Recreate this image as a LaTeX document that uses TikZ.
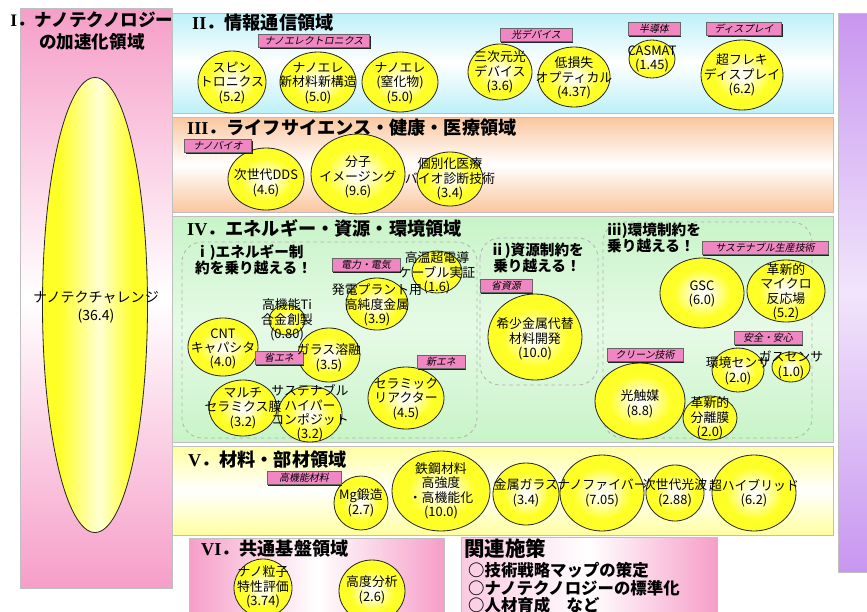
\documentclass[tikz,border=0pt]{standalone}
\usepackage{fontspec}
\newfontfamily\jp{Noto Sans CJK JP}
\newfontfamily\jpsl[FakeSlant=0.2]{Noto Sans CJK JP}
\newfontfamily\numfont{Liberation Serif}
\usetikzlibrary{shapes.geometric,shadows}
\definecolor{panelpink}{RGB}{246,158,200}
\definecolor{tagpink}{RGB}{240,135,195}
\definecolor{panelcyan}{RGB}{188,240,248}
\definecolor{panelorange}{RGB}{250,198,158}
\definecolor{panelgreen}{RGB}{200,244,200}
\definecolor{panelyellow}{RGB}{255,255,160}
\definecolor{panelpurple}{RGB}{200,150,240}
\definecolor{ballyellow}{RGB}{255,255,40}
\pgfdeclareradialshading{ballshade}{\pgfpoint{0bp}{0bp}}{color(0bp)=(white); color(5bp)=(white!85!ballyellow); color(17bp)=(ballyellow); color(50bp)=(ballyellow)}
\pgfdeclarehorizontalshading{bigshade}{100bp}{color(0bp)=(ballyellow); color(33bp)=(ballyellow); color(52bp)=(white!80!ballyellow); color(68bp)=(ballyellow); color(100bp)=(ballyellow)}

\begin{document}
\begin{tikzpicture}[x=0.3mm, y=-0.3mm,
    panel/.style={draw=black!25, line width=0.8pt},
    ball/.style={ellipse, draw=black!85, line width=0.7pt, inner sep=0pt, outer sep=0pt, shading=ballshade},
    bsize/.style 2 args={minimum width=#1*0.6mm, minimum height=#2*0.6mm},
    btext/.style={align=center, inner sep=0pt, font=\jp\fontsize{11}{12.3}\selectfont},
    tagbox/.style={draw=black!60, fill=tagpink, inner sep=0pt, minimum height=3.9mm, minimum width=#1*0.3mm,
        font=\jpsl\fontsize{8.5}{9}\selectfont,
        drop shadow={shadow xshift=1pt, shadow yshift=-1pt, opacity=0.85, fill=black}},
    ttl/.style={inner sep=0pt, font=\jp\bfseries\fontsize{15.5}{19}\selectfont},
    sub/.style={inner sep=0pt, font=\jp\bfseries\fontsize{12.5}{13.6}\selectfont},
    area/.style={draw=black!30, dashed, line width=0.7pt, rounded corners=6mm}]

    \useasboundingbox (0,0) rectangle (867,612);
    \clip (0,0) rectangle (867,612);
    \fill[white] (0,0) rectangle (867,612);

    \draw[panel, top color=panelpink, bottom color=panelpink, middle color=white] (20,8) rectangle (172,588);
    \draw[panel, top color=panelcyan, bottom color=panelcyan, middle color=white] (172,13) rectangle (833,113);
    \draw[panel, top color=panelorange, bottom color=panelorange, middle color=white] (172,117) rectangle (833,212);
    \draw[panel, top color=panelgreen, bottom color=panelgreen, middle color=panelgreen!45] (172,216) rectangle (833,442);
    \draw[panel, top color=panelyellow, bottom color=panelyellow, middle color=white] (172,446) rectangle (833,535);
    \draw[panel, left color=panelpink, right color=panelpink, middle color=white] (189,538) rectangle (444,616);
    \draw[panel, left color=panelpink!55, right color=panelpink, middle color=white] (461,537) rectangle (717,616);
    \draw[panel, top color=panelpurple, bottom color=panelpurple, middle color=panelpurple!25] (838,13) rectangle (872,572);

    \draw[area] (182,242) rectangle (477,438);
    \draw[area] (480,238) rectangle (598,385);
    \draw[area] (603,222) rectangle (812,438);

    \node[ttl, align=center, font=\jp\bfseries\fontsize{15}{18.7}\selectfont] (t1) at (92,31)
        {{\numfont I}．ナノテクノロジー\\の加速化領域};
    \node[ttl, anchor=west] (t2) at (192,23) {{\numfont II}．情報通信領域};
    \node[ttl, anchor=west] (t3) at (187,128) {{\numfont III}．ライフサイエンス・健康・医療領域};
    \node[ttl, anchor=west] (t4) at (187,228) {{\numfont IV}．エネルギー・資源・環境領域};
    \node[ttl, anchor=west] (t5) at (188,460) {{\numfont V}．材料・部材領域};
    \node[ttl, anchor=west] (t6) at (201,549) {{\numfont VI}．共通基盤領域};
    \node[ttl, anchor=west, font=\jp\bfseries\fontsize{17.5}{20}\selectfont] (t7) at (464,549) {関連施策};
    \node[anchor=west, align=left, inner sep=0pt, font=\jp\bfseries\fontsize{14}{14.9}\selectfont] (measures) at (468,588)
        {○技術戦略マップの策定\\○ナノテクノロジーの標準化\\○人材育成　など};

    \node[sub, anchor=west, align=left] (s1) at (195,260) {ⅰ)エネルギー制\\約を乗り越える！};
    \node[sub, align=center] (s2) at (537,258) {ⅱ)資源制約を\\乗り越える！};
    \node[sub, anchor=west, align=left] (s3) at (607,238) {ⅲ)環境制約を\\乗り越える！};

    \node[ball, bsize={52.5}{227.5}, shading=bigshade] (challenge) at (95,305) {};

    \node[ball, bsize={34}{31}] (spin) at (232,82) {};
    \node[ball, bsize={38}{30}] (nanonew) at (318,82) {};
    \node[ball, bsize={38}{30}] (nanonitr) at (400,82) {};
    \node[ball, bsize={32}{28}] (optdev) at (500,72) {};
    \node[ball, bsize={36}{30}] (lowloss) at (574,77) {};
    \node[ball, bsize={23}{19}] (casmat) at (652,59) {};
    \node[ball, bsize={41}{35}] (flexi) at (742,75) {};

    \node[ball, bsize={38}{31}] (dds) at (266,179) {};
    \node[ball, bsize={47}{40}] (imaging) at (358,174) {};
    \node[ball, bsize={33}{27}] (diag) at (450,179) {};

    \node[ball, bsize={25}{21}] (cable) at (437,272) {};
    \node[ball, bsize={31}{26}] (plant) at (377,304) {};
    \node[ball, bsize={18}{15}] (titan) at (287,320) {};
    \node[ball, bsize={35}{29}] (cnt) at (223,347) {};
    \node[ball, bsize={31}{27}] (glass) at (329,355) {};
    \node[ball, bsize={38}{31}] (reactor) at (406,398) {};
    \node[ball, bsize={34}{28}] (multi) at (243,408) {};
    \node[ball, bsize={32}{28}] (hyper) at (310,414) {};
    \node[ball, bsize={47}{43}] (rare) at (535,337) {};
    \node[ball, bsize={42}{35}] (gsc) at (702,293) {};
    \node[ball, bsize={39}{31}] (micro) at (786,291) {};
    \node[ball, bsize={26}{22}] (envsens) at (738,370) {};
    \node[ball, bsize={19}{15}] (gassens) at (791,367) {};
    \node[ball, bsize={45}{38}] (photo) at (640,401) {};
    \node[ball, bsize={27}{22}] (membrane) at (710,418) {};

    \node[ball, bsize={27}{27}] (mg) at (361,503) {};
    \node[ball, bsize={49}{40}] (steel) at (441,491) {};
    \node[ball, bsize={33}{31}] (metglass) at (526,494) {};
    \node[ball, bsize={42}{38}] (fiber) at (602,493) {};
    \node[ball, bsize={29}{28}] (wave) at (675,493) {};
    \node[ball, bsize={42}{38}] (hybrid) at (754,493) {};

    \node[ball, bsize={29}{29}] (particle) at (263,588) {};
    \node[ball, bsize={33}{31}] (analysis) at (372,591) {};

    \node[tagbox=111] (tg-nanoelec) at (314,41) {ナノエレクトロニクス};
    \node[tagbox=72] (tg-optdev) at (536,35) {光デバイス};
    \node[tagbox=52] (tg-semi) at (654,29) {半導体};
    \node[tagbox=75] (tg-display) at (744,29) {ディスプレイ};
    \node[tagbox=67] (tg-bio) at (218,146) {ナノバイオ};
    \node[tagbox=68] (tg-power) at (366,265) {電力・電気};
    \node[tagbox=48] (tg-saving) at (279,358) {省エネ};
    \node[tagbox=48] (tg-newen) at (441,362) {新エネ};
    \node[tagbox=52] (tg-resource) at (506,286) {省資源};
    \node[tagbox=126] (tg-sustain) at (765,248) {サステナブル生産技術};
    \node[tagbox=68] (tg-safety) at (768,338) {安全・安心};
    \node[tagbox=76] (tg-clean) at (645,355) {クリーン技術};
    \node[tagbox=74] (tg-material) at (304,478) {高機能材料};

    \node[btext, font=\jp\fontsize{12}{15.5}\selectfont] (challenge-t) at (96,307) {ナノテクチャレンジ\\(36.4)};

    \node[btext] (spin-t) at (232,83) {スピン\\トロニクス\\(5.2)};
    \node[btext] (nanonew-t) at (318,83) {ナノエレ\\新材料新構造\\(5.0)};
    \node[btext] (nanonitr-t) at (400,83) {ナノエレ\\(窒化物)\\(5.0)};
    \node[btext] (optdev-t) at (500,72) {三次元光\\デバイス\\(3.6)};
    \node[btext] (lowloss-t) at (574,78) {低損失\\オプティカル\\(4.37)};
    \node[btext] (casmat-t) at (652,59) {CASMAT\\(1.45)};
    \node[btext] (flexi-t) at (742,75) {超フレキ\\ディスプレイ\\(6.2)};

    \node[btext] (dds-t) at (266,183) {次世代DDS\\(4.6)};
    \node[btext] (imaging-t) at (358,177) {分子\\イメージング\\(9.6)};
    \node[btext] (diag-t) at (450,179) {個別化医療\\バイオ診断技術\\(3.4)};

    \node[btext] (cable-t) at (437,273) {高温超電導\\ケーブル実証\\(1.6)};
    \node[btext] (plant-t) at (377,305) {発電プラント用\\高純度金属\\(3.9)};
    \node[btext] (titan-t) at (287,320) {高機能Ti\\合金創製\\(0.80)};
    \node[btext] (cnt-t) at (223,349) {CNT\\キャパシタ\\(4.0)};
    \node[btext] (glass-t) at (329,358) {ガラス溶融\\(3.5)};
    \node[btext] (reactor-t) at (406,399) {セラミック\\リアクター\\(4.5)};
    \node[btext] (multi-t) at (243,408) {マルチ\\セラミクス膜\\(3.2)};
    \node[btext] (hyper-t) at (310,413) {サステナブル\\ハイパー\\コンポジット\\(3.2)};
    \node[btext] (rare-t) at (535,339) {希少金属代替\\材料開発\\(10.0)};
    \node[btext] (gsc-t) at (702,294) {GSC\\(6.0)};
    \node[btext] (micro-t) at (786,292) {革新的\\マイクロ\\反応場\\(5.2)};
    \node[btext] (envsens-t) at (738,371) {環境センサ\\(2.0)};
    \node[btext] (gassens-t) at (791,365) {ガスセンサ\\(1.0)};
    \node[btext] (photo-t) at (640,404) {光触媒\\(8.8)};
    \node[btext] (membrane-t) at (710,418) {革新的\\分離膜\\(2.0)};

    \node[btext] (mg-t) at (361,503) {Mg鍛造\\(2.7)};
    \node[btext] (steel-t) at (441,491) {鉄鋼材料\\高強度\\・高機能化\\(10.0)};
    \node[btext] (metglass-t) at (526,493) {金属ガラス\\(3.4)};
    \node[btext] (fiber-t) at (602,493) {ナノファイバー\\(7.05)};
    \node[btext] (wave-t) at (675,493) {次世代光波\\(2.88)};
    \node[btext] (hybrid-t) at (754,493) {超ハイブリッド\\(6.2)};

    \node[btext] (particle-t) at (263,587) {ナノ粒子\\特性評価\\(3.74)};
    \node[btext] (analysis-t) at (372,590) {高度分析\\(2.6)};

\end{tikzpicture}
\end{document}
